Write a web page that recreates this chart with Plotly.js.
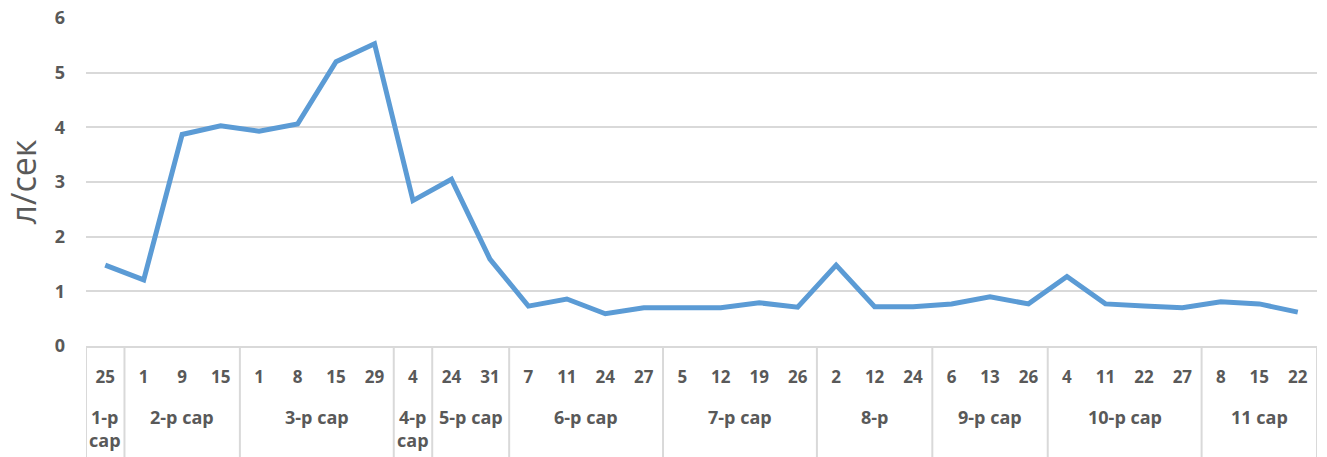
<!DOCTYPE html>
<html>
<head>
<meta charset="utf-8">
<script src="https://cdn.plot.ly/plotly-3.0.1.min.js"></script>
<style>html,body{margin:0;padding:0;background:#fff;}#chart{width:1327px;height:457px;}</style>
</head>
<body>
<div id="chart"></div>
<script>
var months = ["1-р<br>сар","2-р сар","2-р сар","2-р сар","3-р сар","3-р сар","3-р сар","3-р сар","4-р<br>сар","5-р сар","5-р сар","6-р сар","6-р сар","6-р сар","6-р сар","7-р сар","7-р сар","7-р сар","7-р сар","8-р","8-р","8-р","9-р сар","9-р сар","9-р сар","10-р сар","10-р сар","10-р сар","10-р сар","11 сар","11 сар","11 сар"];
var days = ["25","1","9","15","1","8","15","29","4","24","31","7","11","24","27","5","12","19","26","2","12","24","6","13","26","4","11","22","27","8","15","22"];
var flow = [1.48,1.21,3.87,4.03,3.93,4.06,5.2,5.53,2.66,3.05,1.59,0.73,0.86,0.59,0.7,0.7,0.7,0.79,0.71,1.48,0.72,0.72,0.77,0.9,0.77,1.27,0.77,0.73,0.7,0.81,0.77,0.62];

var txt = '#595959';
var grid = '#d9d9d9';
var plotH = 457 - 18 - 111;
var idx = days.map(function(d, i){ return i; });

// group spans from the month list
var groups = [];
months.forEach(function(m, i){
  if (!groups.length || groups[groups.length-1].name !== m) groups.push({name: m, start: i, end: i});
  else groups[groups.length-1].end = i;
});

var shapes = [];
var annotations = [];
groups.forEach(function(g, k){
  shapes.push({type: 'line', xref: 'x', yref: 'paper', x0: g.start - 0.5, x1: g.start - 0.5, y0: 0, y1: -111/plotH,
               line: {color: grid, width: 2}});
  if (k === groups.length - 1)
    shapes.push({type: 'line', xref: 'x', yref: 'paper', x0: g.end + 0.5, x1: g.end + 0.5, y0: 0, y1: -111/plotH,
                 line: {color: grid, width: 2}});
  annotations.push({xref: 'x', yref: 'paper', x: (g.start + g.end) / 2, y: -(403 - 346) / plotH,
                    yanchor: 'top', xanchor: 'center', showarrow: false, text: g.name,
                    font: {size: 18, color: txt, weight: 'bold'}});
});

var trace = {
  x: idx,
  y: flow,
  type: 'scatter',
  mode: 'lines',
  line: {color: '#5b9bd5', width: 5},
  hoverinfo: 'none'
};
var layout = {
  width: 1327, height: 457,
  margin: {l: 86, r: 10, t: 18, b: 111},
  paper_bgcolor: '#fff', plot_bgcolor: '#fff',
  showlegend: false,
  font: {family: '"Open Sans", sans-serif', color: txt},
  xaxis: {
    range: [-0.5, days.length - 0.5],
    tickmode: 'array', tickvals: idx, ticktext: days,
    showline: true, linecolor: grid, linewidth: 2,
    showgrid: false, zeroline: false, ticks: '',
    tickfont: {size: 17, color: txt, weight: 'bold'},
    ticklabelstandoff: 15
  },
  yaxis: {
    range: [0, 6], dtick: 1,
    showgrid: true, gridcolor: grid, gridwidth: 2,
    zeroline: false, showline: false,
    tickfont: {size: 18, color: txt, weight: 'bold'},
    ticklabelstandoff: 20,
    title: {text: 'л/сек', font: {size: 34, color: txt}, standoff: 12}
  },
  shapes: shapes,
  annotations: annotations
};
Plotly.newPlot('chart', [trace], layout, {staticPlot: true});
</script>
</body>
</html>
